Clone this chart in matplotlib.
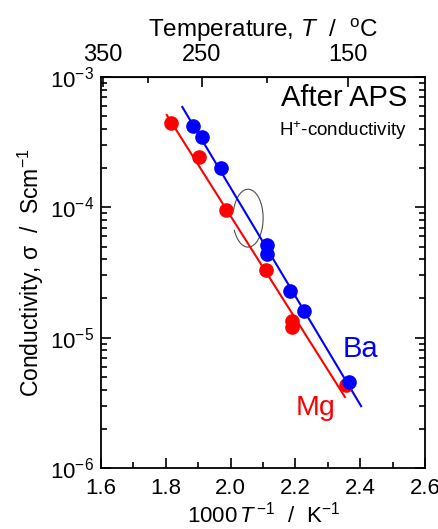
import numpy as np
import matplotlib
matplotlib.use('Agg')
import matplotlib.pyplot as plt
from matplotlib.patches import Arc
from matplotlib.ticker import FixedLocator, FuncFormatter, MultipleLocator, LogLocator

plt.rcParams['font.family'] = ['Liberation Sans', 'DejaVu Sans']
plt.rcParams['mathtext.fontset'] = 'custom'
plt.rcParams['mathtext.rm'] = 'Liberation Sans'
plt.rcParams['mathtext.it'] = 'Liberation Sans:italic'

# Ba-doped sample (after APS)
ba_x = [1.883, 1.911, 1.971, 2.111, 2.111, 2.182, 2.227, 2.365]
ba_y = [4.23e-4, 3.44e-4, 1.99e-4, 5.14e-5, 4.38e-5, 2.30e-5, 1.59e-5, 4.59e-6]
# Mg-doped sample (after APS)
mg_x = [1.816, 1.903, 1.987, 2.109, 2.189, 2.189, 2.356]
mg_y = [4.46e-4, 2.44e-4, 9.53e-5, 3.30e-5, 1.34e-5, 1.20e-5, 4.33e-6]

# x range of the Arrhenius fit lines
ba_fit_x = [1.851, 2.403]
mg_fit_x = [1.803, 2.353]

temp_major = [350, 250, 150]
temp_minor = [300, 200]

fig = plt.figure(figsize=(4.39, 5.29), dpi=100)
ax = fig.add_axes([0.230, 0.1153, 0.738, 0.7391])


def fit_line(x, y, xr):
    p = np.polyfit(x, np.log10(y), 1)
    xr = np.array(xr)
    return xr, 10 ** np.polyval(p, xr)


fx, fy = fit_line(ba_x, ba_y, ba_fit_x)
ax.plot(fx, fy, color='blue', lw=1.5)
fx, fy = fit_line(mg_x, mg_y, mg_fit_x)
ax.plot(fx, fy, color='red', lw=1.5)

ax.plot(mg_x, mg_y, 'o', color='red', ms=9.5, mec='red', zorder=3)
ax.plot(ba_x, ba_y, 'o', color='blue', ms=9.5, mec='blue', zorder=4)

ax.set_yscale('log')
ax.set_xlim(1.6, 2.6)
ax.set_ylim(1e-6, 1e-3)

ax.xaxis.set_major_locator(MultipleLocator(0.2))
ax.xaxis.set_minor_locator(MultipleLocator(0.1))
ax.xaxis.set_major_formatter(FuncFormatter(lambda v, p: '%.1f' % v))
ax.yaxis.set_major_locator(LogLocator(base=10))
ax.yaxis.set_minor_locator(LogLocator(base=10, subs=np.arange(2, 10)))
ax.yaxis.set_major_formatter(FuncFormatter(lambda v, p: r'$\mathregular{10^{%d}}$' % round(np.log10(v))))

ax.tick_params(which='both', direction='in', right=True, labelsize=16, width=1.2)
ax.tick_params(which='major', length=7)
ax.tick_params(which='minor', length=4)
ax.tick_params(axis='x', which='both', top=False, pad=7)
ax.tick_params(axis='y', which='both', pad=5)
for s in ax.spines.values():
    s.set_linewidth(1.3)

# top temperature axis
sec = ax.secondary_xaxis('top', functions=(lambda x: 1000 / x - 273.15,
                                           lambda t: 1000 / (t + 273.15)))
sec.xaxis.set_major_locator(FixedLocator(temp_major))
sec.xaxis.set_minor_locator(FixedLocator(temp_minor))
sec.xaxis.set_major_formatter(FuncFormatter(lambda v, p: '%d' % round(v)))
sec.tick_params(which='both', direction='in', labelsize=17, width=1.2, pad=8)
sec.tick_params(which='major', length=7)
sec.tick_params(which='minor', length=4)
sec.set_xlabel(r'Temperature, $\mathit{T}$  /  $^{\mathregular{o}}$C', fontsize=17.5, labelpad=5)

ax.set_xlabel(r'1000$\,\mathit{T}^{\,\mathregular{-1}}$  /  K$^{\mathregular{-1}}$', fontsize=16, labelpad=2)
ax.set_ylabel(r'Conductivity, σ  /  Scm$^{\mathregular{-1}}$', fontsize=16.5, labelpad=3)

ax.text(0.945, 0.925, 'After APS', transform=ax.transAxes, ha='right', fontsize=21)
ax.text(0.945, 0.848, r'H$^{\mathregular{+}}$-conductivity', transform=ax.transAxes, ha='right', fontsize=13.5)
ax.text(0.746, 0.285, 'Ba', transform=ax.transAxes, color='blue', fontsize=21)
ax.text(0.60, 0.135, 'Mg', transform=ax.transAxes, color='red', fontsize=20.5)

# loop marking the two fit lines
ax.add_patch(Arc((0.454, 0.639), 0.093, 0.148, transform=ax.transAxes,
                 theta1=215, theta2=155, color='0.3', lw=0.8))

fig.savefig('out.png', dpi=100)
